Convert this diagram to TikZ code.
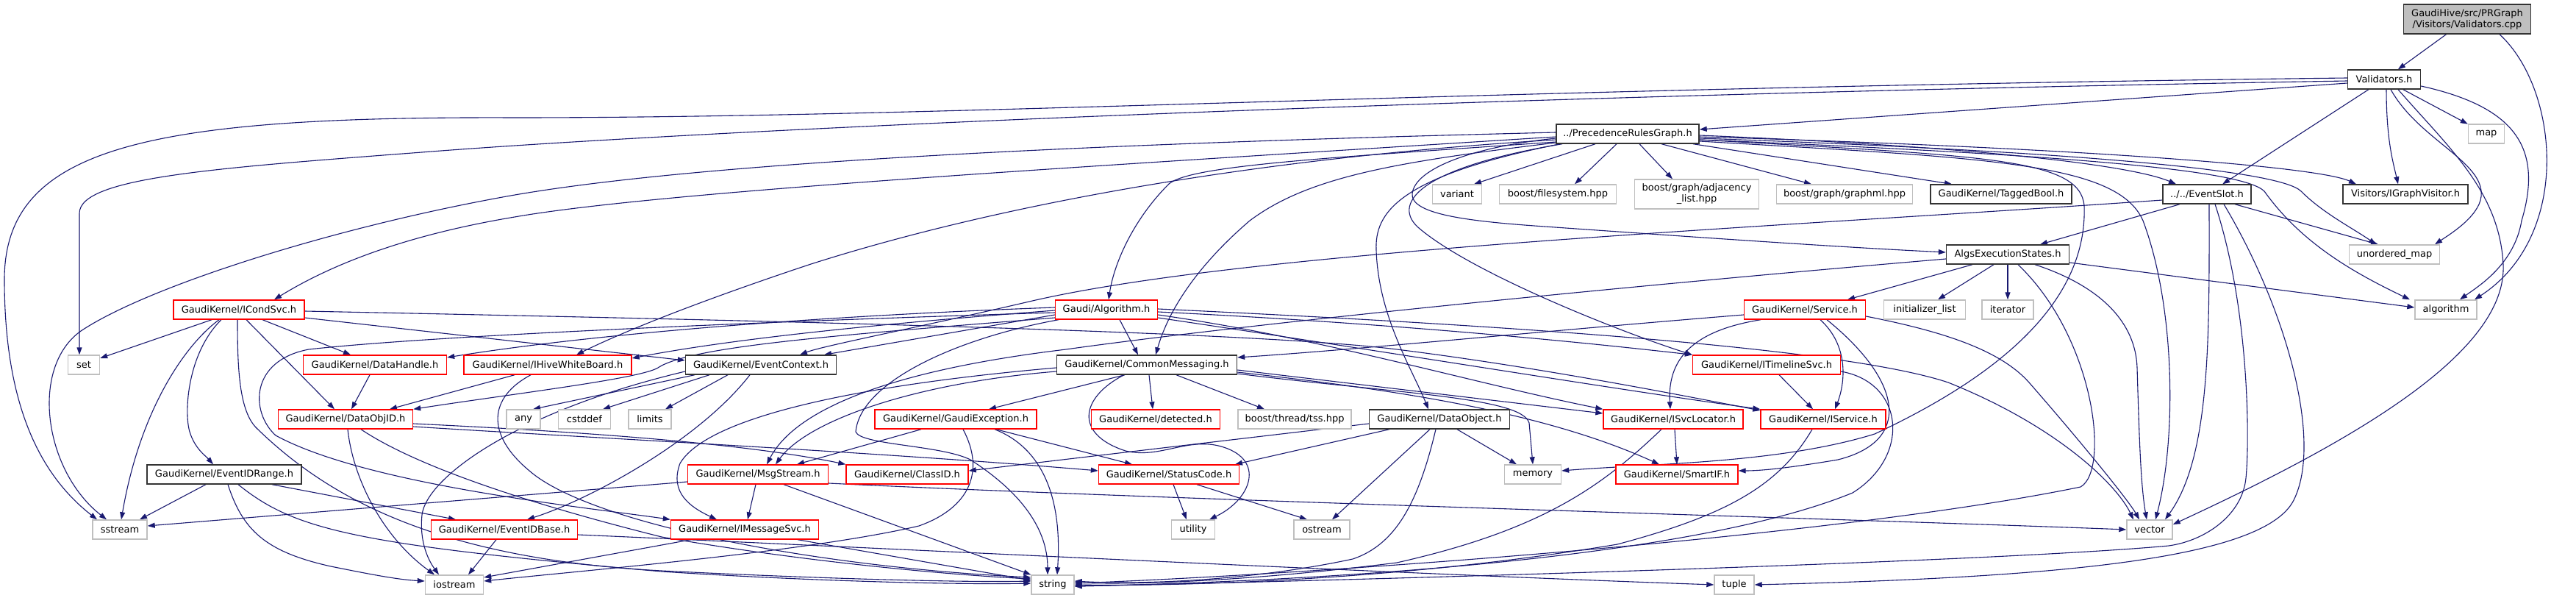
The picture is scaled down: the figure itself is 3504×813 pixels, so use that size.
\documentclass[tikz,border=0pt]{standalone}
\usepackage{fontspec}
\setmainfont{DejaVu Sans}
\usetikzlibrary{arrows.meta}
\pgfdeclarelayer{bg}
\pgfsetlayers{bg,main}
\definecolor{edgec}{HTML}{191970}
\definecolor{greyq}{HTML}{BFBFBF}
\definecolor{docb}{HTML}{333333}
\tikzset{
  nb/.style={draw, rectangle, inner sep=0pt, minimum height=26pt, align=center,
    font=\fontsize{13}{15}\selectfont, line width=1.4pt, fill=white},
  docnode/.style={nb, draw=docb},
  rednode/.style={nb, draw=red},
  extnode/.style={nb, draw=greyq},
  rootnode/.style={nb, draw=docb, fill=greyq},
  edge/.style={draw=edgec, line width=1.1pt, -{Triangle[length=10pt,width=7pt]}},
}
\begin{document}
\begin{tikzpicture}[x=1pt,y=-1pt]
\useasboundingbox (0,0) rectangle (3504,813);
% ---------- nodes ----------
\node[rootnode, minimum width=173pt, minimum height=40pt] (root) at (3356,26) {GaudiHive/src/PRGraph\\/Visitors/Validators.cpp};
\node[docnode, minimum width=99pt] (valh) at (3243,108) {Validators.h};
\node[docnode, minimum width=194pt] (prg) at (2214,182) {../PrecedenceRulesGraph.h};
\node[extnode, minimum width=49pt] (map) at (3382,182) {map};
\node[extnode, minimum width=67pt] (variant) at (1982,264) {variant};
\node[extnode, minimum width=159pt] (fs) at (2119,264) {boost/filesystem.hpp};
\node[extnode, minimum width=169pt, minimum height=40pt] (adj) at (2308,264) {boost/graph/adjacency\\\_list.hpp};
\node[extnode, minimum width=185pt] (gml) at (2509,264) {boost/graph/graphml.hpp};
\node[docnode, minimum width=192pt] (tagged) at (2722,264) {GaudiKernel/TaggedBool.h};
\node[docnode, minimum width=120pt] (slot) at (3002,264) {../../EventSlot.h};
\node[docnode, minimum width=170pt] (igv) at (3272,264) {Visitors/IGraphVisitor.h};
\node[docnode, minimum width=167pt] (algs) at (2731,346) {AlgsExecutionStates.h};
\node[extnode, minimum width=123pt] (umap) at (3257,346) {unordered\_map};
\node[rednode, minimum width=178pt] (icond) at (325,421) {GaudiKernel/ICondSvc.h};
\node[rednode, minimum width=139pt] (algo) at (1505,421) {Gaudi/Algorithm.h};
\node[rednode, minimum width=165pt] (service) at (2455,421) {GaudiKernel/Service.h};
\node[extnode, minimum width=111pt] (initl) at (2618,421) {initializer\_list};
\node[extnode, minimum width=70pt] (iter) at (2731,421) {iterator};
\node[extnode, minimum width=84pt] (algorithm) at (3327,421) {algorithm};
\node[extnode, minimum width=43pt] (set) at (114,496) {set};
\node[rednode, minimum width=195pt] (dhandle) at (510,496) {GaudiKernel/DataHandle.h};
\node[rednode, minimum width=228pt] (ihive) at (745,496) {GaudiKernel/IHiveWhiteBoard.h};
\node[docnode, minimum width=205pt] (ectx) at (1035,496) {GaudiKernel/EventContext.h};
\node[docnode, minimum width=245pt] (cmsg) at (1560,496) {GaudiKernel/CommonMessaging.h};
\node[rednode, minimum width=201pt] (itime) at (2403,496) {GaudiKernel/ITimelineSvc.h};
\node[rednode, minimum width=183pt] (dobjid) at (470,570) {GaudiKernel/DataObjID.h};
\node[extnode, minimum width=46pt] (any) at (712,570) {any};
\node[extnode, minimum width=71pt] (cstddef) at (795,570) {cstddef};
\node[extnode, minimum width=58pt] (limits) at (884,570) {limits};
\node[rednode, minimum width=220pt] (gexc) at (1300,570) {GaudiKernel/GaudiException.h};
\node[rednode, minimum width=175pt] (detected) at (1572,570) {GaudiKernel/detected.h};
\node[extnode, minimum width=154pt] (tss) at (1761,570) {boost/thread/tss.hpp};
\node[docnode, minimum width=191pt] (dobject) at (1958,570) {GaudiKernel/DataObject.h};
\node[rednode, minimum width=190pt] (isvcloc) at (2276,570) {GaudiKernel/ISvcLocator.h};
\node[rednode, minimum width=170pt] (iservice) at (2480,570) {GaudiKernel/IService.h};
\node[docnode, minimum width=210pt] (evrange) at (305,645) {GaudiKernel/EventIDRange.h};
\node[rednode, minimum width=191pt] (msgstream) at (1031,645) {GaudiKernel/MsgStream.h};
\node[rednode, minimum width=166pt] (classid) at (1234,645) {GaudiKernel/ClassID.h};
\node[rednode, minimum width=191pt] (statuscode) at (1590,645) {GaudiKernel/StatusCode.h};
\node[extnode, minimum width=77pt] (memory) at (2085,645) {memory};
\node[rednode, minimum width=166pt] (smartif) at (2281,645) {GaudiKernel/SmartIF.h};
\node[extnode, minimum width=74pt] (sstream) at (163,720) {sstream};
\node[rednode, minimum width=199pt] (evbase) at (686,720) {GaudiKernel/EventIDBase.h};
\node[rednode, minimum width=201pt] (imsg) at (1013,720) {GaudiKernel/IMessageSvc.h};
\node[extnode, minimum width=59pt] (utility) at (1623,720) {utility};
\node[extnode, minimum width=76pt] (ostream) at (1798,720) {ostream};
\node[extnode, minimum width=62pt] (vector) at (2924,720) {vector};
\node[extnode, minimum width=79pt] (iostream) at (618,795) {iostream};
\node[extnode, minimum width=58pt] (string) at (1432,795) {string};
\node[extnode, minimum width=54pt] (tuple) at (2359,795) {tuple};
% ---------- edges ----------
\begin{pgfonlayer}{bg}
\fill[white] (0,0) rectangle (3504,813);
% root
\draw[edge] (root) -- (valh);
\draw[edge] (root.south -| 3400,0) .. controls (3480,120) and (3500,320) .. (algorithm.north -| 3366,0);
% Validators.h
\draw[edge] (valh.west |- 0,113) -- (prg.east |- 0,176);
\draw[edge] (valh.west |- 0,106) .. controls (2000,120) and (1300,160) .. (700,160) .. controls (200,158) and (6,200) .. (6,380) .. controls (6,560) and (60,650) .. (sstream.north -| 132,0);
\draw[edge] (valh.west |- 0,110) .. controls (2000,130) and (1000,175) .. (600,205) .. controls (300,228) and (108,240) .. (108,290) -- (set.north -| 108,0);
\draw[edge] (valh) -- (slot);
\draw[edge] (valh.south -| 3246,0) .. controls (3246,190) and (3255,220) .. (igv.north -| 3262,0);
\draw[edge] (valh) -- (map);
\draw[edge] (valh.south -| 3252,0) .. controls (3290,190) and (3380,220) .. (3375,267) .. controls (3372,295) and (3330,320) .. (umap.north -| 3312,0);
\draw[edge] (valh.east |- 0,117) .. controls (3420,145) and (3460,200) .. (3430,300) .. controls (3420,360) and (3370,390) .. (algorithm.north -| 3346,0);
\draw[edge] (valh.south -| 3262,0) .. controls (3330,200) and (3400,260) .. (3405,360) .. controls (3410,480) and (3200,600) .. (vector.east |- 0,713);
% PrecedenceRulesGraph.h
\draw[edge] (prg.south -| 2170,0) -- (variant.north -| 2005,0);
\draw[edge] (prg.south -| 2199,0) -- (fs.north -| 2142,0);
\draw[edge] (prg.south -| 2230,0) -- (adj.north -| 2275,0);
\draw[edge] (prg.south -| 2260,0) -- (gml.north -| 2464,0);
\draw[edge] (prg.south -| 2303,0) -- (tagged.north -| 2655,0);
\draw[edge] (prg.east |- 0,184) .. controls (2700,200) and (2900,225) .. (slot.north -| 2960,0);
\draw[edge] (prg.east |- 0,186) .. controls (2800,200) and (3150,225) .. (igv.north -| 3205,0);
\draw[edge] (prg.east |- 0,188) .. controls (2800,205) and (3100,230) .. (3130,260) .. controls (3160,290) and (3200,310) .. (umap.north -| 3232,0);
\draw[edge] (prg.east |- 0,190) .. controls (2800,210) and (3050,230) .. (3080,260) .. controls (3130,330) and (3200,370) .. (algorithm.north -| 3278,0);
\draw[edge] (prg.east |- 0,192) .. controls (2700,215) and (2880,220) .. (2915,300) .. controls (2960,420) and (2960,600) .. (vector.north -| 2932,0);
\draw[edge] (prg.east |- 0,190) .. controls (2700,212) and (2830,215) .. (2835,280) .. controls (2840,420) and (2700,520) .. (2550,590) .. controls (2420,630) and (2250,630) .. (memory.east |- 0,640);
\draw[edge] (prg.west |- 0,188) .. controls (2000,200) and (1925,230) .. (1921,263) .. controls (1918,290) and (1990,300) .. (2087,307) .. controls (2300,322) and (2500,336) .. (algs.west |- 0,343);
\draw[edge] (prg.south -| 2125,0) .. controls (1920,230) and (1895,280) .. (1930,310) .. controls (2000,370) and (2200,450) .. (itime.north west);
\draw[edge] (prg.south -| 2122,0) .. controls (1900,240) and (1870,290) .. (1872,340) .. controls (1875,430) and (1920,500) .. (dobject.north -| 1943,0);
\draw[edge] (prg.west |- 0,186) .. controls (1500,225) and (900,260) .. (700,295) .. controls (550,320) and (450,360) .. (icond.north -| 373,0);
\draw[edge] (prg.west |- 0,180) .. controls (1500,195) and (950,220) .. (689,267) .. controls (450,310) and (200,390) .. (110,450) .. controls (40,500) and (60,640) .. (sstream.north -| 145,0);
\draw[edge] (prg.west |- 0,190) .. controls (1700,215) and (1350,280) .. (1100,360) .. controls (950,410) and (850,450) .. (ihive.north -| 784,0);
\draw[edge] (prg.west |- 0,193) .. controls (1800,215) and (1620,225) .. (1590,250) .. controls (1540,300) and (1515,360) .. (algo.north -| 1508,0);
\draw[edge] (prg.west |- 0,194) .. controls (1900,220) and (1780,240) .. (1700,300) .. controls (1630,360) and (1590,420) .. (cmsg.north -| 1572,0);
% AlgsExecutionStates.h
\draw[edge] (algs.south -| 2683,0) -- (service.north -| 2513,0);
\draw[edge] (algs.south -| 2712,0) -- (initl.north -| 2636,0);
\draw[edge] (algs.south -| 2731,0) -- (iter.north -| 2731,0);
\draw[edge] (algs.east |- 0,357) -- (algorithm.west |- 0,418);
\draw[edge] (algs.south -| 2768,0) .. controls (2860,390) and (2905,440) .. (2907,500) .. controls (2910,600) and (2912,660) .. (vector.north -| 2920,0);
\draw[edge] (algs.south -| 2745,0) .. controls (2850,460) and (2870,640) .. (2830,662) .. controls (2500,730) and (1800,780) .. (string.east |- 0,793);
\draw[edge] (algs.west |- 0,352) .. controls (2200,390) and (1700,440) .. (1450,475) .. controls (1200,505) and (1080,560) .. (msgstream.north -| 1043,0);
% Service.h
\draw[edge] (service.west |- 0,428) .. controls (2100,450) and (1850,475) .. (cmsg.east |- 0,486);
\draw[edge] (service.south -| 2395,0) .. controls (2300,450) and (2268,490) .. (isvcloc.north -| 2272,0);
\draw[edge] (service.south -| 2476,0) .. controls (2515,470) and (2510,520) .. (iservice.north -| 2496,0);
\draw[edge] (service.south -| 2485,0) .. controls (2590,520) and (2600,600) .. (2500,625) .. controls (2440,635) and (2400,640) .. (smartif.east |- 0,640);
\draw[edge] (service.east |- 0,430) .. controls (2640,450) and (2720,475) .. (2760,520) .. controls (2830,600) and (2895,680) .. (vector.north -| 2910,0);
% ITimelineSvc.h
\draw[edge] (itime.south -| 2420,0) -- (iservice.north -| 2466,0);
\draw[edge] (itime.east |- 0,505) .. controls (2590,520) and (2600,620) .. (2520,670) .. controls (2300,760) and (1800,790) .. (string.east |- 0,797);
% CommonMessaging.h
\draw[edge] (cmsg.south -| 1530,0) -- (gexc.north -| 1345,0);
\draw[edge] (cmsg.south -| 1563,0) -- (detected.north -| 1568,0);
\draw[edge] (cmsg.south -| 1600,0) -- (tss.north -| 1720,0);
\draw[edge] (cmsg.south -| 1529,0) .. controls (1470,540) and (1460,590) .. (1531,613) .. controls (1580,625) and (1620,590) .. (1670,610) .. controls (1720,630) and (1700,680) .. (utility.north -| 1645,0);
\draw[edge] (cmsg.west |- 0,505) .. controls (1250,520) and (1100,570) .. (msgstream.north -| 1055,0);
\draw[edge] (cmsg.west |- 0,500) .. controls (1150,525) and (960,570) .. (925,630) .. controls (910,670) and (940,690) .. (imsg.north -| 975,0);
\draw[edge] (cmsg.east |- 0,503) -- (isvcloc.west |- 0,562);
\draw[edge] (cmsg.east |- 0,506) .. controls (1900,530) and (2100,560) .. (smartif.north -| 2257,0);
\draw[edge] (cmsg.east |- 0,508) .. controls (1900,535) and (2070,540) .. (2080,575) -- (memory.north -| 2085,0);
% Gaudi/Algorithm.h
\draw[edge] (algo.south -| 1523,0) -- (cmsg.north -| 1548,0);
\draw[edge] (algo.west |- 0,428) -- (ectx.north -| 1121,0);
\draw[edge] (algo.west |- 0,418) .. controls (1100,430) and (800,455) .. (dhandle.east |- 0,486);
\draw[edge] (algo.west |- 0,422) .. controls (1200,440) and (1000,460) .. (ihive.east |- 0,487);
\draw[edge] (algo.west |- 0,432) .. controls (1150,455) and (940,470) .. (895,500) .. controls (870,515) and (700,535) .. (dobjid.north east);
\draw[edge] (algo.west |- 0,425) .. controls (1100,435) and (600,455) .. (420,475) .. controls (340,490) and (340,560) .. (375,592) .. controls (500,660) and (800,690) .. (imsg.north west);
\draw[edge] (algo.south -| 1440,0) .. controls (1300,460) and (1170,520) .. (1164,587) .. controls (1170,605) and (1280,605) .. (1320,625) .. controls (1390,670) and (1425,720) .. (string.north -| 1425,0);
\draw[edge] (algo.east |- 0,424) .. controls (1900,440) and (2150,465) .. (itime.north west);
\draw[edge] (algo.east |- 0,428) .. controls (1800,460) and (2000,520) .. (isvcloc.north west);
\draw[edge] (algo.east |- 0,432) .. controls (1900,480) and (2200,530) .. (iservice.north west);
\draw[edge] (algo.east |- 0,420) .. controls (2000,440) and (2500,470) .. (2650,520) .. controls (2800,580) and (2880,660) .. (vector.north -| 2902,0);
% EventContext.h
\draw[edge] (ectx.south -| 945,0) -- (any.north -| 725,0);
\draw[edge] (ectx.south -| 965,0) -- (cstddef.north -| 820,0);
\draw[edge] (ectx.south -| 990,0) -- (limits.north -| 905,0);
\draw[edge] (ectx.south -| 1020,0) .. controls (950,600) and (800,680) .. (evbase.north -| 717,0);
\draw[edge] (ectx.west |- 0,505) .. controls (700,560) and (580,650) .. (574,700) .. controls (570,740) and (585,765) .. (iostream.north -| 597,0);
% ICondSvc.h
\draw[edge] (icond.south -| 288,0) -- (set.east |- 0,487);
\draw[edge] (icond.south -| 357,0) -- (dhandle.north -| 477,0);
\draw[edge] (icond.south -| 335,0) -- (dobjid.north -| 455,0);
\draw[edge] (icond.south -| 301,0) .. controls (255,480) and (250,560) .. (258,587) .. controls (265,610) and (280,620) .. (evrange.north -| 290,0);
\draw[edge] (icond.south -| 298,0) .. controls (250,470) and (190,560) .. (sstream.north -| 165,0);
\draw[edge] (icond.south -| 323,0) .. controls (323,500) and (325,560) .. (350,583) .. controls (450,680) and (600,760) .. (900,776) .. controls (1100,786) and (1300,792) .. (string.west |- 0,790);
\draw[edge] (icond.east |- 0,432) -- (ectx.west |- 0,490);
\draw[edge] (icond.east |- 0,423) .. controls (1000,435) and (1700,450) .. (1900,475) .. controls (2100,500) and (2300,540) .. (iservice.west |- 0,558);
% DataHandle / IHiveWhiteBoard
\draw[edge] (dhandle.south -| 503,0) -- (dobjid.north -| 478,0);
\draw[edge] (ihive.south -| 700,0) -- (dobjid.north -| 530,0);
\draw[edge] (ihive.south -| 722,0) .. controls (665,540) and (660,590) .. (720,640) .. controls (800,710) and (1100,770) .. (string.west |- 0,785);
% DataObjID.h
\draw[edge] (dobjid.east |- 0,576) .. controls (750,585) and (1000,600) .. (classid.north west);
\draw[edge] (dobjid.east |- 0,580) .. controls (800,595) and (1200,615) .. (statuscode.west |- 0,640);
\draw[edge] (dobjid.south -| 473,0) .. controls (480,650) and (520,730) .. (iostream.north -| 591,0);
\draw[edge] (dobjid.south -| 491,0) .. controls (560,630) and (700,680) .. (900,730) .. controls (1100,765) and (1300,782) .. (string.west |- 0,787);
% EventIDRange.h
\draw[edge] (evrange.south -| 280,0) -- (sstream.north -| 190,0);
\draw[edge] (evrange.south -| 370,0) -- (evbase.north -| 620,0);
\draw[edge] (evrange.south -| 310,0) .. controls (330,720) and (360,750) .. (450,770) .. controls (500,780) and (540,788) .. (iostream.west |- 0,790);
\draw[edge] (evrange.south -| 324,0) .. controls (400,720) and (480,740) .. (900,777) .. controls (1100,790) and (1300,795) .. (string.west |- 0,793);
% EventIDBase.h
\draw[edge] (evbase.south -| 675,0) -- (iostream.north -| 637,0);
\draw[edge] (evbase.east |- 0,727) .. controls (1200,745) and (1900,780) .. (tuple.west |- 0,795);
% MsgStream.h
\draw[edge] (msgstream.south -| 1028,0) -- (imsg.north -| 1017,0);
\draw[edge] (msgstream.south -| 1066,0) -- (string.north west);
\draw[edge] (msgstream.west |- 0,655) -- (sstream.east |- 0,715);
\draw[edge] (msgstream.east |- 0,657) .. controls (1600,680) and (2500,705) .. (vector.west |- 0,720);
% GaudiException.h
\draw[edge] (gexc.south -| 1253,0) -- (msgstream.north -| 1084,0);
\draw[edge] (gexc.south -| 1355,0) -- (statuscode.north -| 1540,0);
\draw[edge] (gexc.south -| 1353,0) .. controls (1420,610) and (1445,680) .. (string.north -| 1438,0);
\draw[edge] (gexc.south -| 1310,0) .. controls (1340,640) and (1320,690) .. (1250,715) .. controls (1100,750) and (800,775) .. (iostream.east |- 0,790);
% IMessageSvc.h
\draw[edge] (imsg.south -| 940,0) -- (iostream.east |- 0,785);
\draw[edge] (imsg.south -| 1085,0) -- (string.west |- 0,789);
% StatusCode.h
\draw[edge] (statuscode.south -| 1596,0) -- (utility.north -| 1614,0);
\draw[edge] (statuscode.south -| 1628,0) -- (ostream.north -| 1778,0);
% DataObject.h
\draw[edge] (dobject.west |- 0,576) -- (classid.east |- 0,640);
\draw[edge] (dobject.south -| 1890,0) -- (statuscode.north -| 1680,0);
\draw[edge] (dobject.south -| 1982,0) -- (memory.north -| 2063,0);
\draw[edge] (dobject.south -| 1945,0) -- (ostream.north -| 1812,0);
\draw[edge] (dobject.south -| 1953,0) .. controls (1930,680) and (1900,740) .. (1840,760) .. controls (1700,790) and (1550,795) .. (string.east |- 0,790);
% ISvcLocator.h / IService.h
\draw[edge] (isvcloc.south -| 2278,0) -- (smartif.north -| 2281,0);
\draw[edge] (isvcloc.south -| 2260,0) .. controls (2180,660) and (2100,720) .. (1900,765) .. controls (1700,790) and (1550,795) .. (string.east |- 0,792);
\draw[edge] (iservice.south -| 2465,0) .. controls (2420,660) and (2350,700) .. (2200,740) .. controls (1900,790) and (1600,797) .. (string.east |- 0,795);
% EventSlot.h
\draw[edge] (slot.south -| 2965,0) -- (algs.north -| 2775,0);
\draw[edge] (slot.south -| 3040,0) -- (umap.north -| 3235,0);
\draw[edge] (slot.south -| 3005,0) .. controls (3005,450) and (3008,620) .. (vector.north -| 2945,0);
\draw[edge] (slot.south -| 3013,0) .. controls (3060,420) and (3060,600) .. (3055,650) .. controls (3050,700) and (3000,735) .. (2950,742) .. controls (2700,765) and (1800,790) .. (string.east |- 0,797);
\draw[edge] (slot.south -| 3025,0) .. controls (3110,420) and (3160,600) .. (3120,680) .. controls (3080,760) and (2800,785) .. (tuple.east |- 0,795);
\draw[edge] (slot.west |- 0,272) .. controls (2400,310) and (1700,340) .. (1400,410) .. controls (1250,445) and (1120,470) .. (ectx.north -| 1088,0);
\end{pgfonlayer}
\end{tikzpicture}
\end{document}
